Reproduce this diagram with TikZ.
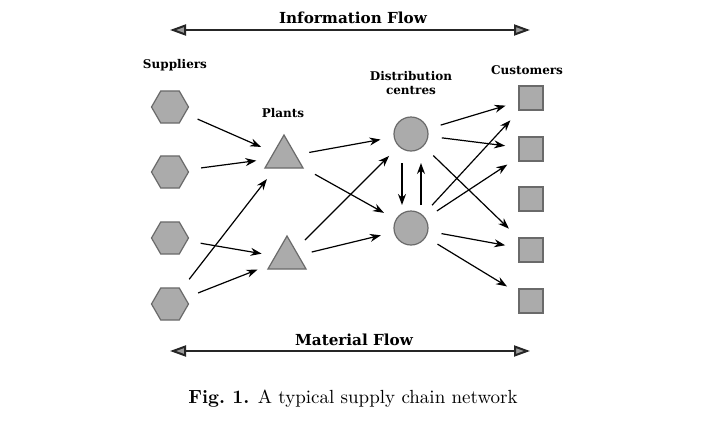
\documentclass[tikz,border=0pt]{standalone}
\usepackage{fontspec}
\usepackage{tikz}
\usetikzlibrary{arrows.meta,shapes.geometric}
\newfontfamily\lblfont{DejaVu Serif}
\definecolor{shapegray}{HTML}{ABABAB}
\definecolor{edgegray}{HTML}{6A6A6A}
\definecolor{headgray}{HTML}{9A9A9A}
\tikzset{
  unit/.style={draw=edgegray, fill=shapegray, line width=0.6pt, inner sep=0pt, outer sep=0pt},
  supplier/.style={unit, regular polygon, regular polygon sides=6, minimum size=18.5pt},
  plant/.style={unit, regular polygon, regular polygon sides=3, minimum size=22pt},
  dc/.style={unit, circle, minimum size=17pt},
  customer/.style={unit, rectangle, minimum size=12pt},
  arr/.style={-{Stealth[length=5.5pt, width=4pt]}, line width=0.6pt, shorten <=7pt, shorten >=7pt},
  flow/.style={{Triangle[length=8pt, width=5.5pt, fill=headgray]}-{Triangle[length=8pt, width=5.5pt, fill=headgray]},
               line width=1pt, draw=black!85},
  lab/.style={font=\lblfont\bfseries\fontsize{6}{7.2}\selectfont, align=center, inner sep=0pt},
  flowlab/.style={font=\lblfont\bfseries\fontsize{7.6}{9}\selectfont, inner sep=0pt},
}
\begin{document}
\begin{tikzpicture}[x=0.5pt, y=-0.5pt]
    \path[use as bounding box, fill=white] (0,0) rectangle (703,446);
    % flows
    \node[flowlab] (inf) at (353,18) {Information Flow};
    \coordinate (infl) at (170,30); \coordinate (infr) at (530,30);
    \draw[flow] (infl) -- (infr);
    \node[flowlab] (mat) at (354,340) {Material Flow};
    \coordinate (matl) at (170,351); \coordinate (matr) at (530,351);
    \draw[flow] (matl) -- (matr);
    % headings
    \node[lab] (lsup) at (175,65) {Suppliers};
    \node[lab] (lpl) at (283,113) {Plants};
    \node[lab] (ldc) at (411,83) {Distribution\\centres};
    \node[lab] (lcu) at (527,70) {Customers};
    % nodes
    \node[supplier] (s1) at (170,107) {};
    \node[supplier] (s2) at (170,172) {};
    \node[supplier] (s3) at (170,238) {};
    \node[supplier] (s4) at (170,304) {};
    \node[plant] (p1) at (284,157) {};
    \node[plant] (p2) at (287,258) {};
    \node[dc] (d1) at (411,134) {};
    \node[dc] (d2) at (411,228) {};
    \node[customer] (c1) at (531,98) {};
    \node[customer] (c2) at (531,149) {};
    \node[customer] (c3) at (531,199) {};
    \node[customer] (c4) at (531,250) {};
    \node[customer] (c5) at (531,301) {};
    % links
    \draw[arr] (s1)--(p1); \draw[arr] (s2)--(p1); \draw[arr] (s4)--(p1);
    \draw[arr] (s3)--(p2); \draw[arr] (s4)--(p2);
    \draw[arr] (p1)--(d1); \draw[arr] (p1)--(d2); \draw[arr] (p2)--(d1); \draw[arr] (p2)--(d2);
    \draw[arr, shorten <=6pt, shorten >=3pt] ([xshift=-4.5pt]d1.south) -- ([xshift=-4.5pt]d2.north);
    \draw[arr, shorten <=3pt, shorten >=6pt] ([xshift=5pt]d2.north) -- ([xshift=5pt]d1.south);
    \draw[arr] (d1)--(c1); \draw[arr] (d1)--(c2); \draw[arr] (d1)--(c4);
    \draw[arr] (d2)--(c1); \draw[arr] (d2)--(c2); \draw[arr] (d2)--(c4); \draw[arr] (d2)--(c5);
    % caption
    \node[font=\fontsize{9.5}{11.4}\selectfont, inner sep=0pt] (cap) at (353,399) {\textbf{Fig.\ 1.} A typical supply chain network};
\end{tikzpicture}
\end{document}
